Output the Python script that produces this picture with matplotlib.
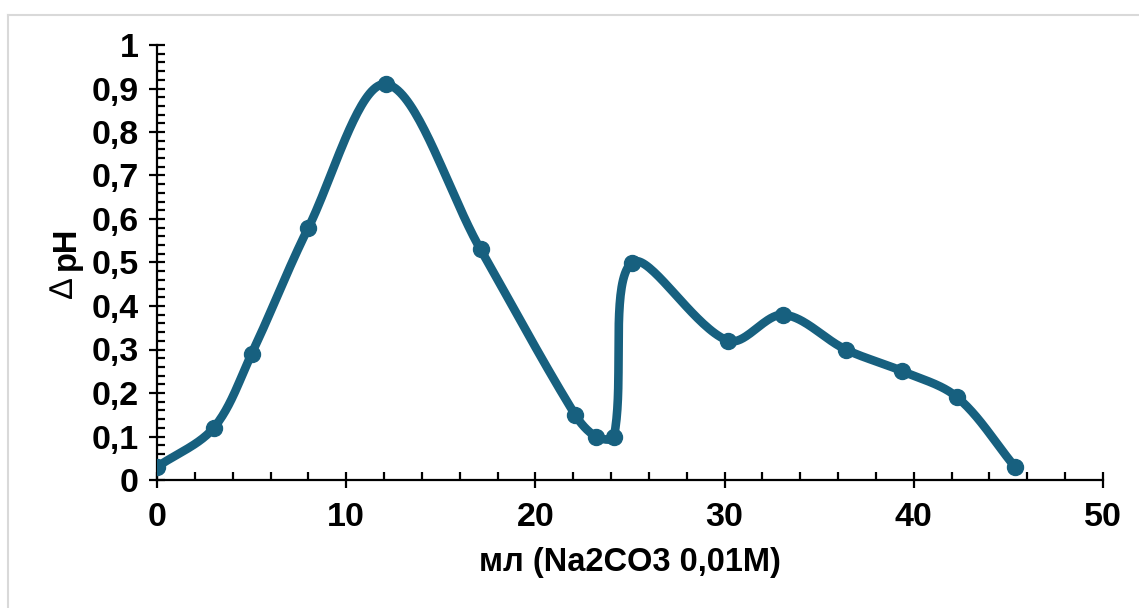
import numpy as np
import matplotlib
matplotlib.use("Agg")
import matplotlib.pyplot as plt
from matplotlib.ticker import MultipleLocator, FuncFormatter
from matplotlib.lines import Line2D

x_ml = [0.0, 3.0, 5.0, 8.0, 12.1, 17.1, 22.1, 23.2, 24.15, 25.1, 30.2, 33.1, 36.4, 39.4, 42.3, 45.35]
d_ph = [0.03, 0.12, 0.29, 0.58, 0.91, 0.53, 0.15, 0.10, 0.10, 0.50, 0.32, 0.38, 0.30, 0.25, 0.19, 0.03]
x_label = "мл (Na2CO3 0,01M)"
y_label_sym = "∆"
y_label_txt = "pH"

color = "#17607f"

def smooth(xs, ys, sx=18.92, sy=435.0, n=40):
    P = np.column_stack([np.asarray(xs) * sx, np.asarray(ys) * sy]).astype(float)
    P = np.vstack([P[0], P, P[-1]])
    out = []
    for i in range(1, len(P) - 2):
        p0, p1, p2, p3 = P[i - 1], P[i], P[i + 1], P[i + 2]
        d01 = np.linalg.norm(p1 - p0); d12 = np.linalg.norm(p2 - p1); d23 = np.linalg.norm(p3 - p2)
        f1 = d12 / (d01 + d12) if d01 + d12 > 0 else 0
        f2 = d12 / (d12 + d23) if d12 + d23 > 0 else 0
        c1 = p1 + (p2 - p0) * f1 / 3.0
        c2 = p2 - (p3 - p1) * f2 / 3.0
        t = np.linspace(0, 1, n)[:, None]
        seg = ((1 - t) ** 3) * p1 + 3 * ((1 - t) ** 2) * t * c1 + 3 * (1 - t) * t ** 2 * c2 + t ** 3 * p2
        out.append(seg if i == 1 else seg[1:])
    S = np.vstack(out)
    return S[:, 0] / sx, S[:, 1] / sy

plt.rcParams['font.family'] = ['Liberation Sans', 'DejaVu Sans']
plt.rcParams['font.weight'] = 'bold'

fig = plt.figure(figsize=(11.39, 6.08), dpi=100)
ax = fig.add_axes([157 / 1139, 1 - 480 / 608, (1103 - 157) / 1139, (480 - 45) / 608])

sx_, sy_ = smooth(x_ml, d_ph)
ax.plot(sx_, sy_, color=color, lw=6.2, solid_capstyle='round', solid_joinstyle='round', zorder=3)
ax.plot(x_ml, d_ph, 'o', color=color, ms=11.5, zorder=4)

ax.set_xlim(0, 50)
ax.set_ylim(0, 1)
ax.xaxis.set_major_locator(MultipleLocator(10))
ax.xaxis.set_minor_locator(MultipleLocator(2))
ax.yaxis.set_major_locator(MultipleLocator(0.1))
ax.yaxis.set_minor_locator(MultipleLocator(0.02))

fmt = FuncFormatter(lambda v, p: ("%g" % round(v, 2)).replace('.', ','))
ax.yaxis.set_major_formatter(fmt)
ax.xaxis.set_major_formatter(FuncFormatter(lambda v, p: "%d" % v))

for s in ['top', 'right']:
    ax.spines[s].set_visible(False)
for s in ['left', 'bottom']:
    ax.spines[s].set_linewidth(1.6)
    ax.spines[s].set_color('black')

ax.tick_params(which='major', direction='inout', length=12, width=1.6, labelsize=24.5)
ax.tick_params(which='minor', direction='in', length=6, width=1.6)
ax.tick_params(axis='x', which='major', pad=10)
ax.tick_params(axis='y', which='major', pad=7)
for lab in ax.get_xticklabels() + ax.get_yticklabels():
    lab.set_fontweight('bold')

ax.set_xlabel(x_label, fontsize=23.5, fontweight='bold', labelpad=10)

# y label: thin delta symbol + bold "pH", stacked vertically (rotated)
fig.text(66 / 1139, 1 - 248 / 608, y_label_txt, rotation=90, fontsize=23.5, fontweight='bold',
         ha='center', va='center')
fig.text(64 / 1139, 1 - 288 / 608, y_label_sym, rotation=90, fontsize=23.5, fontweight='normal',
         ha='center', va='center', family=['Liberation Sans', 'DejaVu Sans'])

fig.add_artist(Line2D([7.5 / 1139, 7.5 / 1139], [0, 1 - 14.5 / 608], transform=fig.transFigure, color='#d9d9d9', lw=1.5))
fig.add_artist(Line2D([7.5 / 1139, 1], [1 - 14.5 / 608, 1 - 14.5 / 608], transform=fig.transFigure, color='#d9d9d9', lw=1.5))

fig.savefig("out.png", dpi=100)
